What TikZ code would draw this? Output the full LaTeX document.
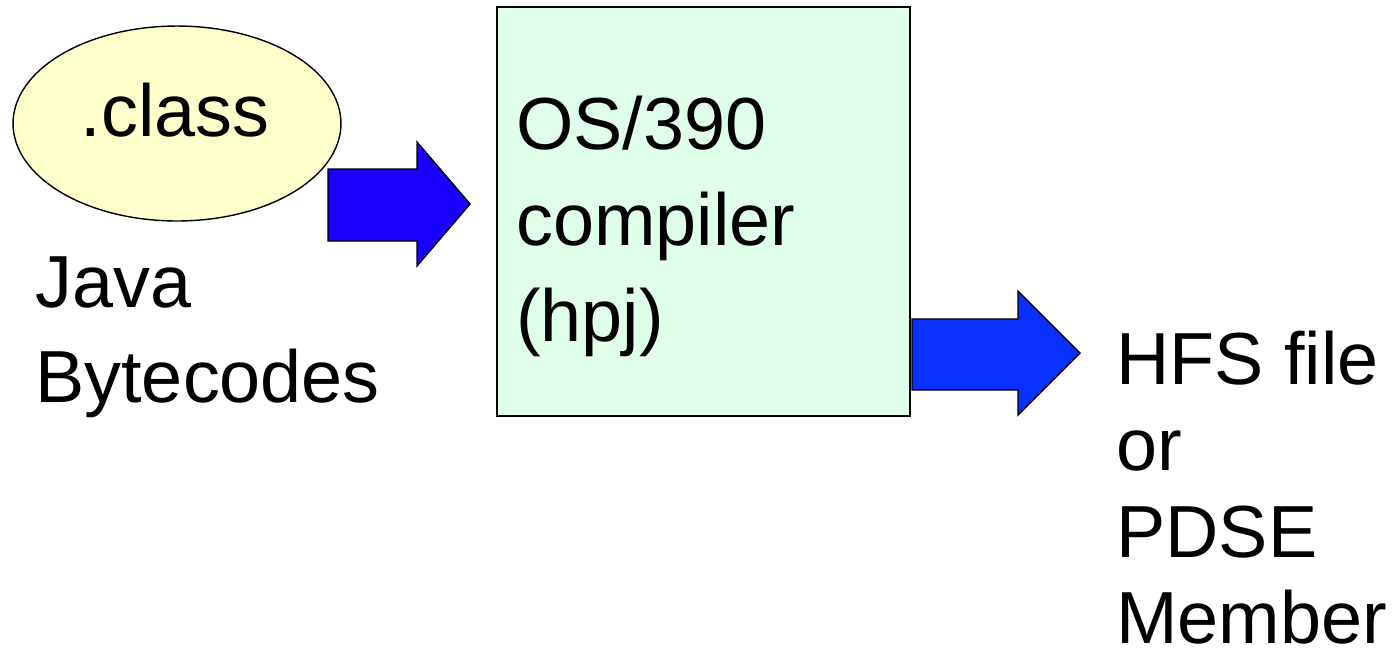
\documentclass[tikz,border=0pt]{standalone}
\usepackage{fontspec}
\setmainfont{Liberation Sans}
\usetikzlibrary{shapes.geometric,positioning}
\definecolor{clsyellow}{RGB}{255,255,204}
\definecolor{hpjgreen}{RGB}{224,255,235}
\definecolor{arrowA}{RGB}{26,0,255}
\definecolor{arrowB}{RGB}{10,48,255}

\begin{document}
\begin{tikzpicture}[x=0.02cm,y=-0.02cm,
      txt/.style={inner sep=0pt,align=left,anchor=north west},
      blockarrow/.style={draw=black,line width=0.8pt,line join=miter}]
    \useasboundingbox (0,0) rectangle (1395,654);

    % input side
    \node[ellipse,draw,fill=clsyellow,line width=0.8pt,
          minimum width=6.56cm,minimum height=3.9cm](cls) at (177,123.5){};
    \node[inner sep=0pt,font=\fontsize{42}{54}\selectfont](clsname) at (175,110){.class};
    \node[txt,font=\fontsize{42}{54}\selectfont](bytecodes) at (35,256){Java\\Bytecodes};

    % compiler
    \node[rectangle,draw,fill=hpjgreen,line width=1.1pt,
          minimum width=8.26cm,minimum height=8.18cm](hpj) at (703.5,211.5){};
    \node[txt,font=\fontsize{42}{54.5}\selectfont](hpjname) at (516,96){OS/390\\compiler\\(hpj)};

    % output side
    \node[txt,font=\fontsize{42}{49}\selectfont](output) at (1116,331){HFS file\\or\\PDSE\\Member};

    \draw[blockarrow,fill=arrowA] (328,169) -- (417,169) -- (417,142) -- (470,204)
        -- (417,266) -- (417,241) -- (328,241) -- cycle;
    \draw[blockarrow,fill=arrowB] (912,319) -- (1018,319) -- (1018,291) -- (1080,353)
        -- (1018,415) -- (1018,390) -- (912,390) -- cycle;

\end{tikzpicture}
\end{document}
